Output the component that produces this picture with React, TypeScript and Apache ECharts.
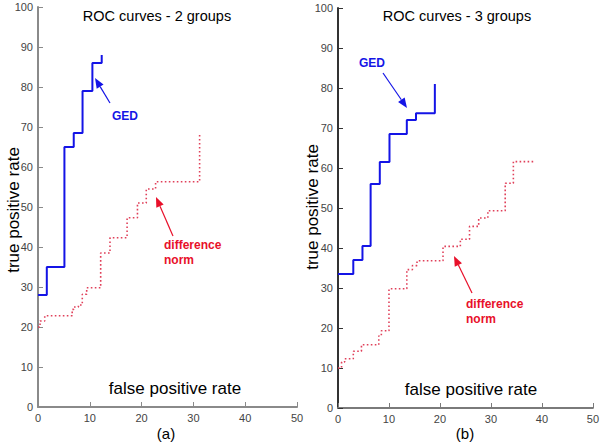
import React, { useEffect, useRef } from "react";
import * as echarts from "echarts";

// Panel (a): 2 groups — step points (fpr where a level starts, tpr level)
const gedFprA = [0, 1.7, 5.1, 6.9, 8.6, 10.5, 12.3];
const gedTprA = [28, 35, 65, 68.5, 79, 86, 88];
const diffFprA = [0, 0.4, 1.3, 6.6, 6.9, 7.8, 8.55, 9.4, 12.1, 13.9, 17.2, 19.2, 20.9, 22.7, 31.2];
const diffTprA = [20, 21.5, 22.8, 24.4, 25, 25.5, 28.2, 29.8, 38.5, 42.3, 47.3, 51, 54.5, 56.3, 68];

// Panel (b): 3 groups
const gedFprB = [0, 3, 4.8, 6.4, 8.2, 10.1, 13.5, 15.3, 19];
const gedTprB = [33.5, 37, 40.5, 56, 61.5, 68.5, 72, 73.7, 81];
const diffFprB = [0, 0.7, 1.3, 3.0, 4.6, 8.0, 8.5, 10.0, 13.5, 14.6, 15.5, 20.6, 24.0, 25.8, 27.6, 29.4, 32.8, 34.4, 38.3];
const diffTprB = [10, 11.5, 12.3, 14.2, 15.8, 18, 19.3, 29.8, 34.6, 35.6, 36.8, 40.4, 42.2, 45.4, 47.5, 49.3, 56.2, 61.6, 61.6];

const titles = ["ROC curves - 2 groups", "ROC curves - 3 groups"];
const panelLabels = ["(a)", "(b)"];
const xName = "false positive rate";
const yName = "true positive rate";

const FONT = "'Liberation Sans', Arial, sans-serif";
const BLUE = "#1414e6";
const RED = "#e8102a";
const DOT = "#e0405a";

function pairs(xs: number[], ys: number[]) {
  return xs.map((x, i) => [x, ys[i]]);
}

function arrow(x1: number, y1: number, x2: number, y2: number, color: string) {
  const dx = x2 - x1;
  const dy = y2 - y1;
  const len = Math.sqrt(dx * dx + dy * dy);
  const ux = dx / len;
  const uy = dy / len;
  const hl = 10;
  const hw = 4;
  const bx = x2 - ux * hl;
  const by = y2 - uy * hl;
  return [
    { type: "line", shape: { x1, y1, x2: bx, y2: by }, style: { stroke: color, lineWidth: 1.2 } },
    {
      type: "polygon",
      shape: {
        points: [
          [x2, y2],
          [bx - uy * hw, by + ux * hw],
          [bx + uy * hw, by - ux * hw],
        ],
      },
      style: { fill: color },
    },
  ];
}

function txt(text: string, x: number, y: number, size: number, color: string, opts: any = {}) {
  return {
    type: "text",
    x,
    y,
    rotation: opts.rotation || 0,
    style: {
      text,
      x: 0,
      y: 0,
      fill: color,
      font: `${opts.bold ? "bold " : ""}${size}px ${FONT}`,
      textAlign: opts.align || "center",
      textVerticalAlign: "middle",
      align: opts.align || "center",
      verticalAlign: "middle",
    },
  };
}

function xAxisCfg(gridIndex: number, color: string) {
  return {
    type: "value",
    gridIndex,
    min: 0,
    max: 50,
    interval: 10,
    axisLine: { show: true, onZero: false, lineStyle: { color, width: 2 } },
    axisTick: { show: true, inside: true, length: 5, lineStyle: { color, width: 1 } },
    splitLine: { show: false },
    axisLabel: { color: "#444", fontSize: 11, fontFamily: FONT, margin: 5 },
  };
}

function yAxisCfg(gridIndex: number, color: string) {
  return {
    type: "value",
    gridIndex,
    min: 0,
    max: 100,
    interval: 10,
    axisLine: { show: true, onZero: false, lineStyle: { color, width: 2 } },
    axisTick: { show: true, inside: true, length: 5, lineStyle: { color, width: 1 } },
    splitLine: { show: false },
    axisLabel: { color: "#444", fontSize: 11, fontFamily: FONT, margin: 5 },
  };
}

export default function App() {
  const ref = useRef<HTMLDivElement>(null);
  useEffect(() => {
    const chart = echarts.init(ref.current!, null, { renderer: "svg" });
    const gedStyle = { color: BLUE, width: 2 };
    const diffStyle = { color: DOT, width: 1.6, type: [1.6, 2.4] as any };
    const option: any = {
      animation: false,
      backgroundColor: "#fff",
      grid: [
        { left: 38, top: 7, width: 259, height: 400 },
        { left: 338, top: 8, width: 258, height: 400 },
      ],
      xAxis: [xAxisCfg(0, "#8a8a8a"), xAxisCfg(1, "#7a7a7a")],
      yAxis: [yAxisCfg(0, "#8a8a8a"), yAxisCfg(1, "#333")],
      series: [
        { type: "line", xAxisIndex: 0, yAxisIndex: 0, step: "end", showSymbol: false, data: pairs(gedFprA, gedTprA), lineStyle: gedStyle },
        { type: "line", xAxisIndex: 0, yAxisIndex: 0, step: "end", showSymbol: false, data: pairs(diffFprA, diffTprA), lineStyle: diffStyle },
        { type: "line", xAxisIndex: 1, yAxisIndex: 1, step: "end", showSymbol: false, data: pairs(gedFprB, gedTprB), lineStyle: gedStyle },
        { type: "line", xAxisIndex: 1, yAxisIndex: 1, step: "end", showSymbol: false, data: pairs(diffFprB, diffTprB), lineStyle: diffStyle },
      ],
      graphic: [
        txt(titles[0], 157, 16, 14.5, "#000"),
        txt(titles[1], 457, 16, 14.5, "#000"),
        txt(yName, 13, 210, 17, "#000", { rotation: Math.PI / 2 }),
        txt(yName, 312, 207, 17, "#000", { rotation: Math.PI / 2 }),
        txt(xName, 175, 388, 17, "#000"),
        txt(xName, 471, 389, 17, "#000"),
        txt(panelLabels[0], 166, 433, 15, "#000"),
        txt(panelLabels[1], 465, 433, 15, "#000"),
        txt("GED", 112, 116, 12, BLUE, { bold: true, align: "left" }),
        txt("GED", 359, 63, 12, BLUE, { bold: true, align: "left" }),
        txt("difference", 164, 245, 12, RED, { bold: true, align: "left" }),
        txt("norm", 164, 260, 12, RED, { bold: true, align: "left" }),
        txt("difference", 466, 304, 12, RED, { bold: true, align: "left" }),
        txt("norm", 466, 319, 12, RED, { bold: true, align: "left" }),
        ...arrow(110, 103, 95, 78, BLUE),
        ...arrow(383, 73, 407, 108, BLUE),
        ...arrow(173, 236, 156, 197, RED),
        ...arrow(472, 293, 454, 256, RED),
      ],
    };
    chart.setOption(option);
    return () => chart.dispose();
  }, []);
  return (
    <div
      ref={ref}
      style={{ position: "fixed", left: 0, top: 0, width: 602, height: 444, background: "#fff" }}
    />
  );
}
